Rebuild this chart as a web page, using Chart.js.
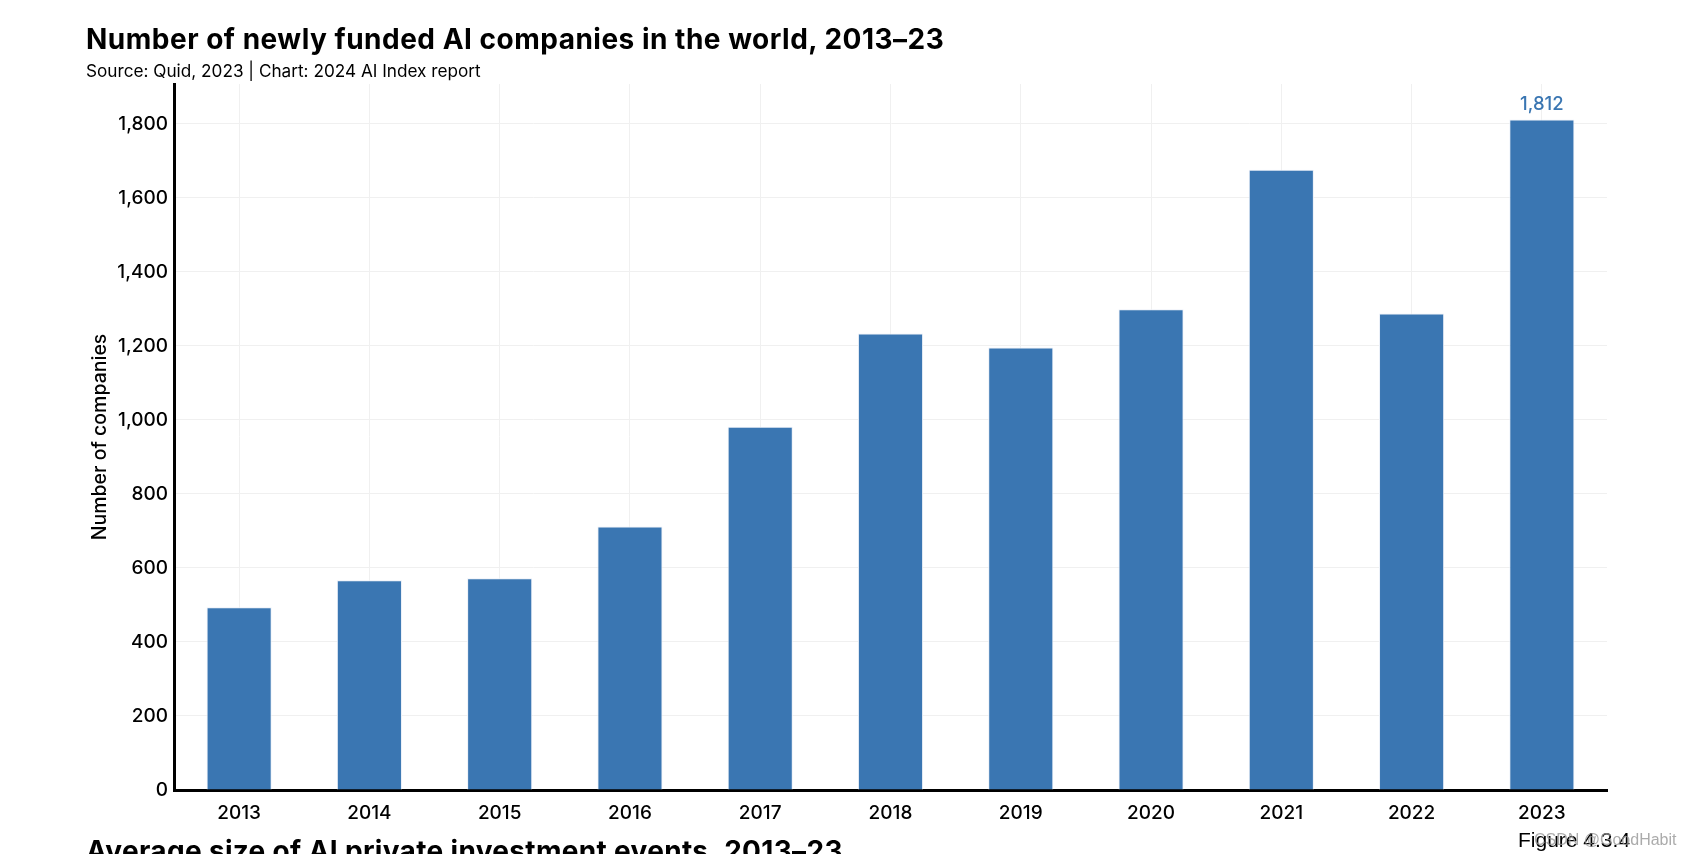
<!DOCTYPE html>
<html>
<head>
<meta charset="utf-8">
<script src="https://cdn.jsdelivr.net/npm/chart.js@4.4.1/dist/chart.umd.min.js"></script>
<style>
  html, body { margin: 0; padding: 0; background: #fff; overflow: hidden; }
  body { width: 1686px; height: 854px; position: relative; }
  #wrap { position: absolute; left: 0; top: 0; width: 1686px; height: 854px; }
  .t { position: absolute; white-space: nowrap; color: #000; line-height: normal; }
  #title { left: 86px; top: 22px; font: 700 28px Inter, sans-serif; letter-spacing: 0.5px; }
  #sub { left: 86px; top: 60px; font: 400 17.2px Inter, sans-serif; }
  #next { left: 86px; top: 834px; font: 700 28px Inter, sans-serif; letter-spacing: 0.33px; }
  #fig { left: 1518px; top: 828px; font: 400 21px "Liberation Sans", Arial, sans-serif; }
  #wm { left: 1534px; top: 831px; font: 400 16px "Liberation Sans", Arial, sans-serif; color: rgba(150,150,150,0.8); }
</style>
</head>
<body>
<div id="wrap"><canvas id="c" width="1686" height="854"></canvas></div>
<div class="t" id="title">Number of newly funded AI companies in the world, 2013–23</div>
<div class="t" id="sub">Source: Quid, 2023 | Chart: 2024 AI Index report</div>
<div class="t" id="next">Average size of AI private investment events, 2013–23</div>
<div class="t" id="fig">Figure 4.3.4</div>
<div class="t" id="wm">CSDN @GoodHabit</div>
<script>
const categories = ["2013","2014","2015","2016","2017","2018","2019","2020","2021","2022","2023"];
const companies = [494, 567, 572, 712, 982, 1234, 1196, 1299, 1676, 1288, 1812];
const yTicks = [0, 200, 400, 600, 800, 1000, 1200, 1400, 1600, 1800];
const labelledValues = {"2023": "1,812"};

const barColor = "#3a76b2";
const tickFont = { family: 'Inter, sans-serif', size: 19, weight: 500 };

const valueLabelPlugin = {
  id: "valueLabel",
  afterDatasetsDraw(chart) {
    const ctx = chart.ctx;
    const meta = chart.getDatasetMeta(0);
    ctx.save();
    ctx.font = '500 18.5px Inter, sans-serif';
    ctx.fillStyle = barColor;
    ctx.textAlign = "center";
    ctx.textBaseline = "alphabetic";
    meta.data.forEach((bar, i) => {
      const lab = labelledValues[categories[i]];
      if (lab) ctx.fillText(lab, bar.x, bar.y - 10);
    });
    ctx.restore();
  }
};

new Chart(document.getElementById("c"), {
  type: "bar",
  data: {
    labels: categories,
    datasets: [{
      data: companies,
      backgroundColor: barColor,
      borderColor: "rgba(235,240,248,1)",
      borderWidth: 1,
      barPercentage: 0.5,
      categoryPercentage: 1.0
    }]
  },
  options: {
    responsive: false,
    animation: false,
    layout: { padding: { left: 81, top: 84, right: 79, bottom: 0 } },
    plugins: { legend: { display: false }, tooltip: { enabled: false } },
    scales: {
      x: {
        grid: { offset: false, color: "#f0f0f0", lineWidth: 1, drawTicks: false },
        border: { display: true, color: "#000", width: 3 },
        ticks: { color: "#000", font: tickFont, padding: 12, maxRotation: 0 },
        afterFit(s) { s.height = 64; }
      },
      y: {
        min: 0, max: 1908,
        afterBuildTicks(s) { s.ticks = yTicks.map(v => ({ value: v })); },
        grid: { color: "#f0f0f0", lineWidth: 1, drawTicks: false },
        border: { display: true, color: "#000", width: 3 },
        ticks: {
          color: "#000",
          font: tickFont,
          padding: 6,
          callback: v => v.toLocaleString("en-US")
        },
        title: {
          display: true, text: "Number of companies", color: "#000",
          font: { family: 'Inter, sans-serif', size: 19.5, weight: 500 },
          padding: { top: 7, bottom: 0 }
        },
        afterFit(s) { s.width = 93; }
      }
    }
  },
  plugins: [valueLabelPlugin]
});
</script>
</body>
</html>
